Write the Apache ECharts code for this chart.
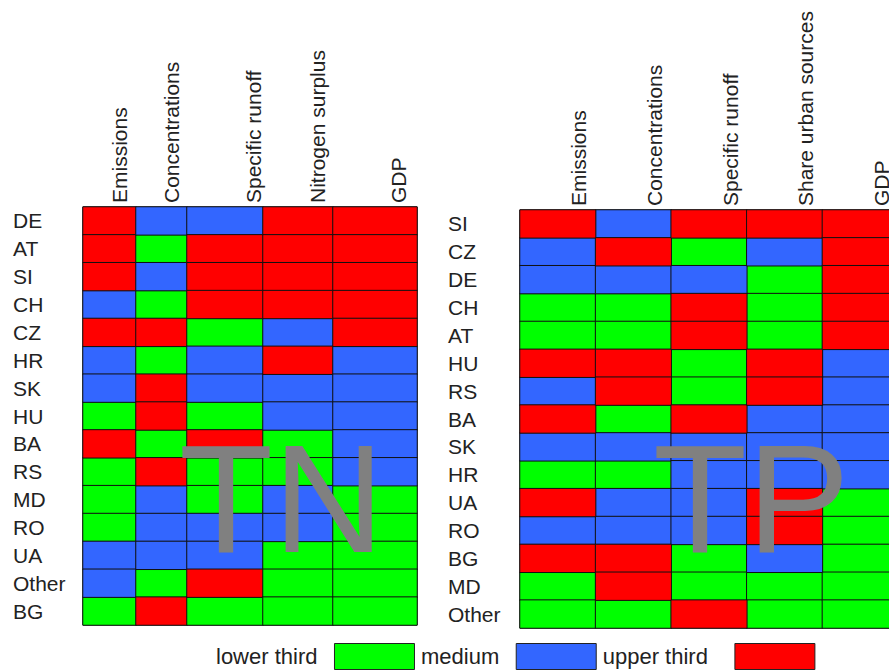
<!DOCTYPE html>
<html>
<head>
<meta charset="utf-8">
<script src="https://cdn.jsdelivr.net/npm/echarts@6/dist/echarts.min.js"></script>
<style>
  html, body { margin: 0; padding: 0; background: #fff; }
  #main { width: 889px; height: 672px; }
</style>
</head>
<body>
<div id="main"></div>
<script>
// class of each cell: 0 = lower third, 1 = medium, 2 = upper third
const levelNames = ['lower third', 'medium', 'upper third'];
const levelColors = ['#00ff00', '#3366ff', '#ff0000'];

// TN panel (rows top to bottom)
const tnCountries = ['DE', 'AT', 'SI', 'CH', 'CZ', 'HR', 'SK', 'HU', 'BA', 'RS', 'MD', 'RO', 'UA', 'Other', 'BG'];
const tnIndicators = ['Emissions', 'Concentrations', 'Specific runoff', 'Nitrogen surplus', 'GDP'];
const tnEmissions = [2, 2, 2, 1, 2, 1, 1, 0, 2, 0, 0, 0, 1, 1, 0];
const tnConcentrations = [1, 0, 1, 0, 2, 0, 2, 2, 0, 2, 1, 1, 1, 0, 2];
const tnRunoff = [1, 2, 2, 2, 0, 1, 1, 0, 2, 0, 0, 1, 1, 2, 0];
const tnSurplus = [2, 2, 2, 2, 1, 2, 1, 1, 0, 0, 1, 1, 0, 0, 0];
const tnGdp = [2, 2, 2, 2, 2, 1, 1, 1, 1, 1, 0, 0, 0, 0, 0];

// TP panel (rows top to bottom)
const tpCountries = ['SI', 'CZ', 'DE', 'CH', 'AT', 'HU', 'RS', 'BA', 'SK', 'HR', 'UA', 'RO', 'BG', 'MD', 'Other'];
const tpIndicators = ['Emissions', 'Concentrations', 'Specific runoff', 'Share urban sources', 'GDP'];
const tpEmissions = [2, 1, 1, 0, 0, 2, 1, 2, 1, 0, 2, 1, 2, 0, 0];
const tpConcentrations = [1, 2, 1, 0, 0, 2, 2, 0, 1, 0, 1, 1, 2, 2, 0];
const tpRunoff = [2, 0, 1, 2, 2, 0, 0, 2, 1, 1, 1, 1, 0, 0, 2];
const tpUrban = [2, 1, 0, 0, 0, 2, 2, 1, 1, 1, 2, 2, 1, 0, 0];
const tpGdp = [2, 2, 2, 2, 2, 1, 1, 1, 1, 1, 0, 0, 0, 0, 0];

const tnColumns = [tnEmissions, tnConcentrations, tnRunoff, tnSurplus, tnGdp];
const tpColumns = [tpEmissions, tpConcentrations, tpRunoff, tpUrban, tpGdp];

// layout: TN columns have different widths, so one grid per column
const tnLeft = 83;
const tnColWidths = [53, 51, 76, 70, 84];
// how far right of the column centre each header sits
const tnLabelShift = [10, 10, 28, 19, 23];
const tpLabelShift = 21;

const font = 'Liberation Sans, Arial, sans-serif';
const textColor = '#222';

const grids = [];
const xAxes = [];
const yAxes = [];
const series = [];

function cellSeries(gridIdx, cols) {
  for (let l = 0; l < 3; l++) {
    const data = [];
    cols.forEach((col, ci) => {
      col.forEach((v, ri) => {
        if (v === l) data.push([ci, ri, v]);
      });
    });
    series.push({
      type: 'heatmap',
      name: levelNames[l],
      xAxisIndex: gridIdx,
      yAxisIndex: gridIdx,
      data: data,
      itemStyle: { color: levelColors[l], borderColor: '#111', borderWidth: 1 },
      emphasis: { disabled: true },
      silent: true,
    });
  }
}

function yAxisFor(gridIdx, countries, showLabels, margin) {
  return {
    type: 'category',
    gridIndex: gridIdx,
    data: countries,
    inverse: true,
    axisLine: { show: false },
    axisTick: { show: false },
    splitLine: { show: false },
    axisLabel: {
      show: showLabels,
      align: 'left',
      margin: margin,
      fontSize: 21,
      fontFamily: font,
      color: textColor,
    },
  };
}

function xAxisFor(gridIdx, names, shift) {
  // rotated text: 'top' alignment + line height pushes the header to the right
  return {
    type: 'category',
    gridIndex: gridIdx,
    data: names,
    position: 'top',
    axisLine: { show: false },
    axisTick: { show: false },
    splitLine: { show: false },
    axisLabel: {
      rotate: -90,
      margin: 4,
      fontSize: 21,
      fontFamily: font,
      color: textColor,
      verticalAlign: 'top',
      lineHeight: shift * 2,
    },
  };
}

// TN grids
let x = tnLeft;
tnIndicators.forEach((name, i) => {
  grids.push({
    left: x, top: 207, width: tnColWidths[i], height: 418,
    show: true, borderColor: '#111', borderWidth: 1,
    containLabel: false, outerBoundsMode: 'none',
  });
  xAxes.push(xAxisFor(i, [name], tnLabelShift[i]));
  yAxes.push(yAxisFor(i, tnCountries, i === 0, 70));
  cellSeries(i, [tnColumns[i]]);
  x += tnColWidths[i];
});

// TP grid (runs past the right edge of the picture)
grids.push({
  left: 520, top: 210, width: 378, height: 418,
  show: true, borderColor: '#111', borderWidth: 1,
  containLabel: false, outerBoundsMode: 'none',
});
xAxes.push(xAxisFor(5, tpIndicators, tpLabelShift));
yAxes.push(yAxisFor(5, tpCountries, true, 72));
cellSeries(5, tpColumns);

const myChart = echarts.init(document.getElementById('main'), null, { renderer: 'svg' });

const option = {
  animation: false,
  grid: grids,
  xAxis: xAxes,
  yAxis: yAxes,
  legend: {
    data: [
      { name: levelNames[0] },
      { name: levelNames[1] },
      { name: levelNames[2], textStyle: { padding: [0, 22, 0, 0] } },
    ],
    left: 211,
    top: 638,
    orient: 'horizontal',
    align: 'right',
    icon: 'rect',
    itemWidth: 80,
    itemHeight: 26,
    itemGap: 6,
    selectedMode: false,
    itemStyle: { borderColor: '#222', borderWidth: 1 },
    textStyle: { fontSize: 22, fontFamily: font, color: textColor, padding: [0, 12, 0, 0] },
  },
  graphic: [
    {
      type: 'text', left: 179, top: 422, z: 100, silent: true,
      style: { text: 'TN', fontSize: 154, fontFamily: font, fill: '#808080' },
    },
    {
      type: 'text', left: 653, top: 422, z: 100, silent: true,
      style: { text: 'TP', fontSize: 154, fontFamily: font, fill: '#808080' },
    },
  ],
  series: series,
};

myChart.setOption(option);
</script>
</body>
</html>
